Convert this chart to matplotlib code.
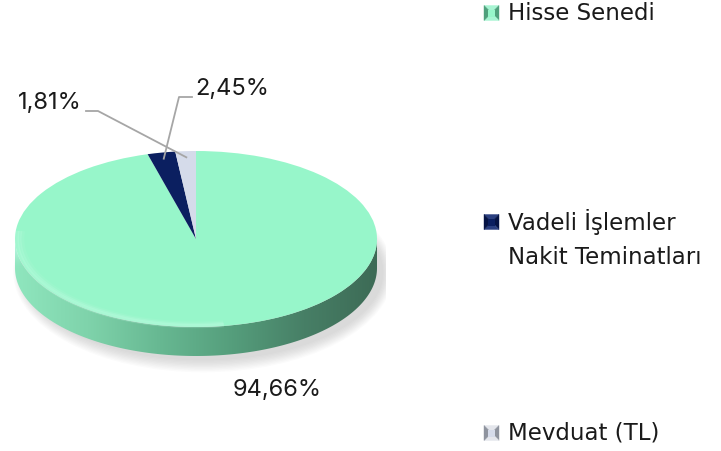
import numpy as np
import matplotlib
matplotlib.use('Agg')
import matplotlib.pyplot as plt
from matplotlib.colors import LinearSegmentedColormap
from matplotlib.patches import Polygon, Ellipse

# ---------------- data ----------------
categories = ['Hisse Senedi', 'Vadeli İşlemler\nNakit Teminatları', 'Mevduat (TL)']
values = [94.66, 2.45, 1.81]
value_labels = ['94,66%', '2,45%', '1,81%']
colors = ['#97F6CA', '#0B1F60', '#D5DBEA']
marker_light = ['#A8F5D3', '#2A3F80', '#E4E6EC']
marker_dark = ['#4FA07C', '#051344', '#8E939E']

FONT = ['DejaVu Sans']
NUMFONT = ['Inter', 'DejaVu Sans']
W, H = 721, 451
fig = plt.figure(figsize=(W / 100, H / 100), dpi=100)
fig.patch.set_facecolor('white')


def px_axes(l, t, w, h, **kw):
    return fig.add_axes([l / W, 1 - (t + h) / H, w / W, h / H], **kw)


# ellipse geometry in pixels
cx, cy, rx, ry = 196, 239, 181, 88
depth = 29 / ry
xl = (-1.05, 1.05)
yl = (-1.6, 1.1)
ax = px_axes(cx - (-xl[0]) * rx, cy - yl[1] * ry, (xl[1] - xl[0]) * rx, (yl[1] - yl[0]) * ry)

# shadow
for i in range(10):
    e = Ellipse((0.04, -depth - 0.05), 1.99 + 0.012 * i, 2.0 + 0.03 * i,
                facecolor='#9A9A9A', edgecolor='none', alpha=0.04, zorder=0)
    ax.add_patch(e)

# top face
wedges, _ = ax.pie(values, colors=colors, startangle=90, counterclock=False,
                   radius=1, center=(0, 0), wedgeprops=dict(linewidth=0))
for w in wedges:
    w.set_zorder(3)

# side
t = np.linspace(np.pi, 2 * np.pi, 300)
xs, ys = np.cos(t), np.sin(t)
verts = np.concatenate([np.column_stack([xs, ys]),
                        np.column_stack([xs[::-1], ys[::-1] - depth])])
side = Polygon(verts, closed=True, facecolor='none', edgecolor='none', zorder=2)
ax.add_patch(side)
side_cmap = LinearSegmentedColormap.from_list(
    'side', ['#8FE6BE', '#7FD3AB', '#67B892', '#559E7C', '#477F66', '#3D6B56'])
grad = np.linspace(0, 1, 256)[None, :]
im = ax.imshow(grad, extent=(-1, 1, -1 - depth, 0), cmap=side_cmap,
               aspect='auto', zorder=2, interpolation='bilinear')
im.set_clip_path(side)

# bevel highlight along the upper edge of the side
hl = np.zeros((40, 256, 4))
xx = np.linspace(-1, 1, 256)
yy = np.linspace(0, 1, 40)[:, None]
strength = np.clip(1.0 - (xx + 1) / 1.4, 0, 1)[None, :]
hl[..., 0:3] = [0.80, 1.0, 0.95]
hl[..., 3] = 0.5 * strength * np.exp(-((yy - 0.92) / 0.09) ** 2)
im2 = ax.imshow(hl, extent=(-1, 1, -1 - depth, 0), aspect='auto', zorder=2.5,
                interpolation='bilinear', origin='lower')
band = Polygon(verts, closed=True, facecolor='none', edgecolor='none')
ax.add_patch(band)
im2.set_clip_path(band)

# soft rim highlight on top face (front-left)
rim_t = np.linspace(np.pi * 0.97, np.pi * 1.55, 200)
for k, (r, a) in enumerate([(0.99, 0.18), (0.975, 0.14), (0.96, 0.08)]):
    ax.plot(r * np.cos(rim_t), r * np.sin(rim_t), color='#D8FFF0', lw=3,
            alpha=a, zorder=3.5, solid_capstyle='butt')

ax.set_xlim(*xl)
ax.set_ylim(*yl)
ax.set_aspect('auto')
ax.axis('off')

# overlay axes in pixel coordinates
ov = fig.add_axes([0, 0, 1, 1], zorder=5)
ov.set_xlim(0, W)
ov.set_ylim(H, 0)
ov.axis('off')
ov.patch.set_alpha(0)


def anchor(idx, r=0.93):
    ws = wedges[idx]
    mid = np.deg2rad((ws.theta1 + ws.theta2) / 2)
    d = ax.transData.transform((r * np.cos(mid), r * np.sin(mid)))
    return d[0], H - d[1]


fs = 16.5
# data labels
ov.text(277, 390, value_labels[0], fontsize=17, family=NUMFONT, ha='center', va='center', color='#1a1a1a')
ov.text(195, 89, value_labels[1], fontsize=17, family=NUMFONT, ha='left', va='center', color='#1a1a1a')
ov.text(82, 103, value_labels[2], fontsize=17, family=NUMFONT, ha='right', va='center', color='#1a1a1a')

ax1, ay1 = anchor(1)
ov.plot([192, 179, ax1], [97, 97, ay1], color='#A6A6A6', lw=1.3, zorder=6)
ax2, ay2 = anchor(2)
ov.plot([86, 98, ax2], [111, 111, ay2], color='#A6A6A6', lw=1.3, zorder=6)

# legend
leg_y = [13, 222, 433]
for i, (cat, y) in enumerate(zip(categories, leg_y)):
    x0, s = 484, 15
    y0 = y - s / 2
    c = (x0 + s / 2, y0 + s / 2)
    corners = [(x0, y0), (x0 + s, y0), (x0 + s, y0 + s), (x0, y0 + s)]
    tri_cols = [marker_light[i], marker_dark[i], marker_light[i], marker_dark[i]]
    for k in range(4):
        p = Polygon([corners[k], corners[(k + 1) % 4], c], closed=True,
                    facecolor=tri_cols[k], edgecolor=tri_cols[k], lw=0.3)
        ov.add_patch(p)
    inner = 4
    ov.add_patch(Polygon([(x0 + inner, y0 + inner), (x0 + s - inner, y0 + inner),
                          (x0 + s - inner, y0 + s - inner), (x0 + inner, y0 + s - inner)],
                         closed=True, facecolor=colors[i], edgecolor='none'))
    lines = cat.split('\n')
    for j, line in enumerate(lines):
        ov.text(508, y + j * 36, line, fontsize=fs, family=FONT, ha='left', va='center',
                color='#1a1a1a')

fig.savefig('out.png', dpi=100, facecolor='white')
